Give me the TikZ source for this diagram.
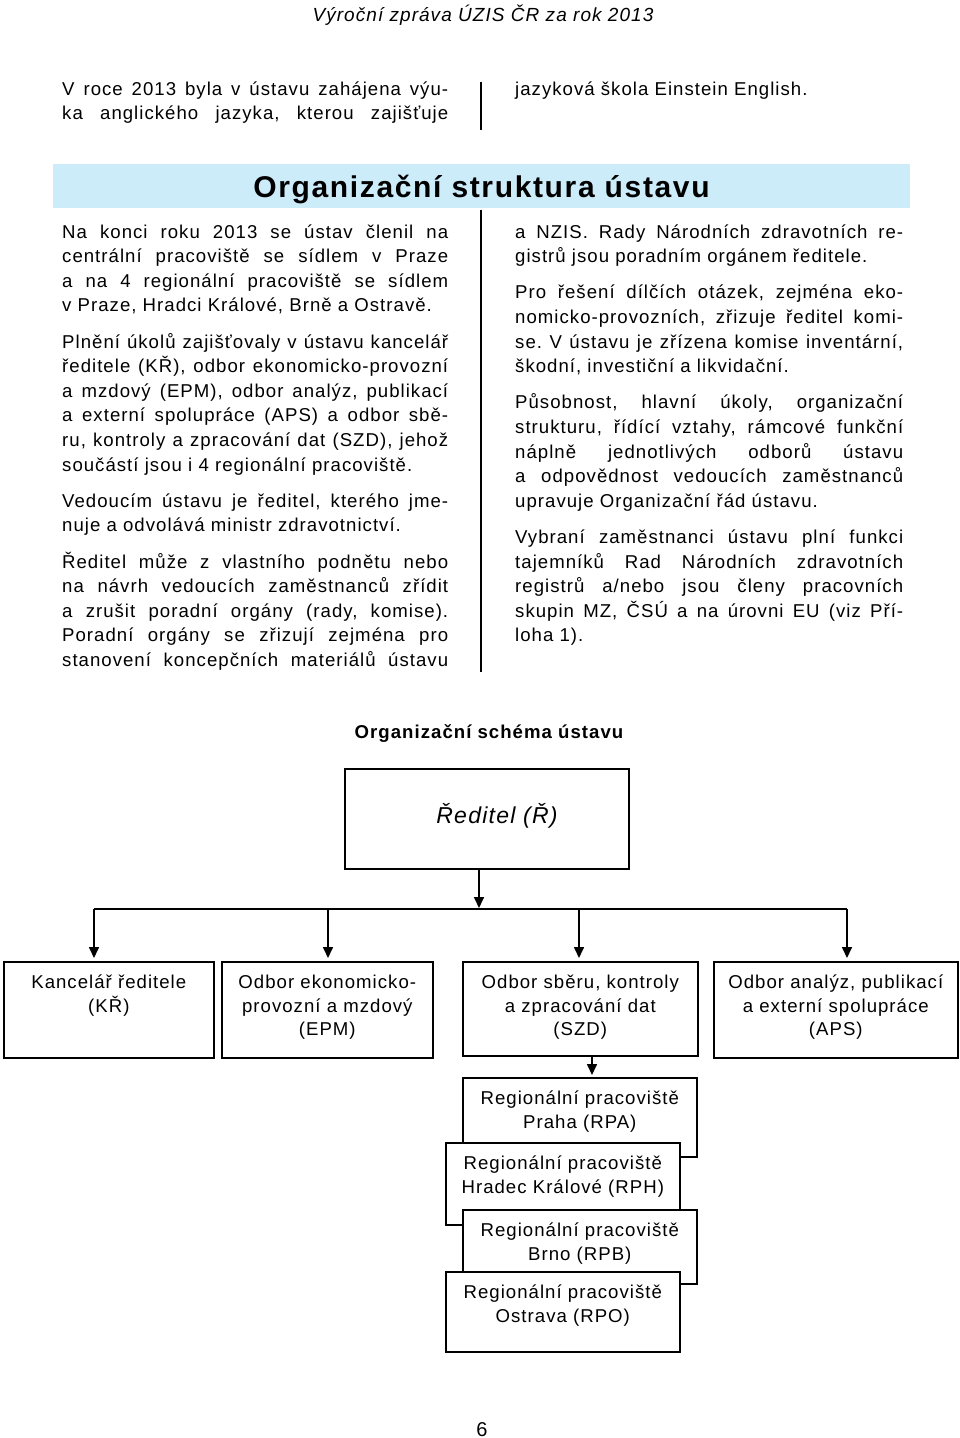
\documentclass[tikz,border=0pt]{standalone}
\usepackage{fontspec}
\setmainfont{Liberation Sans}[LetterSpace=5.5]
\usetikzlibrary{arrows.meta,positioning}

\definecolor{barblue}{RGB}{204,236,250}
\newcommand{\bodysetup}{\fontsize{18.6}{24.6}\selectfont\frenchspacing\setlength{\parskip}{11.6pt}}
\newcommand{\boxsetup}{\fontsize{18.6}{23.5}\selectfont}
\newcommand{\contpar}{\parfillskip=0pt\par}

\tikzset{
  colpar/.style={anchor=base west, inner sep=0pt, text width=386pt, align=justify,
    font=\bodysetup, execute at begin node=\bodysetup},
  unitbox/.style={draw, line width=1.6pt, fill=white, anchor=north west, inner sep=0pt,
    align=center, text height=27pt, font=\boxsetup, execute at begin node=\boxsetup},
  arr/.style={line width=1.6pt, -{Triangle[length=11pt,width=10pt]}, shorten >=3pt},
  rule/.style={line width=1.3pt}
}

\begin{document}
\begin{tikzpicture}[x=1pt,y=-1pt]
\useasboundingbox (0,0) rectangle (960,1438);
% page header
\node[anchor=base, inner sep=0pt, font=\fontsize{19}{23}\selectfont\itshape] (head) at (483,21) {Výroční zpráva ÚZIS ČR za rok 2013};

% end of previous section
\node[colpar] (introL) at (62,95) {V roce 2013 byla v ústavu zahájena výu-\linebreak
ka anglického jazyka, kterou zajišťuje\contpar};
\node[colpar, text width=388pt] (introR) at (515,95) {jazyková škola Einstein English.};
\draw[rule] (481,82) -- (481,130);

% section title
\node[fill=barblue, minimum width=857pt, minimum height=44pt, inner sep=0pt, text height=22pt, text depth=0pt,
  font=\fontsize{30}{36}\selectfont\bfseries] (title) at (481.5,186) {Organizační struktura ústavu};

% two columns
\node[colpar] (colL) at (62,238) {Na konci roku 2013 se ústav členil na\linebreak
centrální pracoviště se sídlem v Praze\linebreak
a na 4 regionální pracoviště se sídlem\linebreak
v Praze, Hradci Králové, Brně a Ostravě.\par
Plnění úkolů zajišťovaly v ústavu kancelář\linebreak
ředitele (KŘ), odbor ekonomicko-provozní\linebreak
a mzdový (EPM), odbor analýz, publikací\linebreak
a externí spolupráce (APS) a odbor sbě-\linebreak
ru, kontroly a zpracování dat (SZD), jehož\linebreak
součástí jsou i 4 regionální pracoviště.\par
Vedoucím ústavu je ředitel, kterého jme-\linebreak
nuje a odvolává ministr zdravotnictví.\par
Ředitel může z vlastního podnětu nebo\linebreak
na návrh vedoucích zaměstnanců zřídit\linebreak
a zrušit poradní orgány (rady, komise).\linebreak
Poradní orgány se zřizují zejména pro\linebreak
stanovení koncepčních materiálů ústavu\contpar};
\node[colpar, text width=388pt] (colR) at (515,238) {a NZIS. Rady Národních zdravotních re-\linebreak
gistrů jsou poradním orgánem ředitele.\par
Pro řešení dílčích otázek, zejména eko-\linebreak
nomicko-provozních, zřizuje ředitel komi-\linebreak
se. V ústavu je zřízena komise inventární,\linebreak
škodní, investiční a likvidační.\par
Působnost, hlavní úkoly, organizační\linebreak
strukturu, řídící vztahy, rámcové funkční\linebreak
náplně jednotlivých odborů ústavu\linebreak
a odpovědnost vedoucích zaměstnanců\linebreak
upravuje Organizační řád ústavu.\par
Vybraní zaměstnanci ústavu plní funkci\linebreak
tajemníků Rad Národních zdravotních\linebreak
registrů a/nebo jsou členy pracovních\linebreak
skupin MZ, ČSÚ a na úrovni EU (viz Pří-\linebreak
loha 1).};
\draw[rule] (481,210) -- (481,672);

% org chart
\node[anchor=base, inner sep=0pt, font=\fontsize{18.6}{23}\selectfont\bfseries] (schema) at (489,738) {Organizační schéma ústavu};
\node[draw, line width=1.6pt, minimum width=284pt, minimum height=100pt, inner sep=0pt, text height=17pt, text depth=9pt,
  font=\fontsize{23}{28}\selectfont\itshape] (dir) at (487,819) {\hspace*{20pt}Ředitel (Ř)};

\coordinate (bdir) at (479,909);
\coordinate (b1) at (94,909);
\coordinate (b2) at (328,909);
\coordinate (b3) at (579,909);
\coordinate (b4) at (847,909);
\draw[arr, shorten >=1pt] (dir.south -| bdir) -- (bdir);
\draw[line width=1.6pt] (b1) -- (b4);

\node[unitbox, text width=210pt, text depth=69pt] (kr) at (3,961) {Kancelář ředitele\\(KŘ)};
\node[unitbox, text width=211pt, text depth=69pt] (epm) at (221,961) {Odbor ekonomicko-\\provozní a mzdový\\(EPM)};
\node[unitbox, text width=235pt, text depth=67pt] (szd) at (462,961) {Odbor sběru, kontroly\\a zpracování dat\\(SZD)};
\node[unitbox, text width=244pt, text depth=69pt] (aps) at (713,961) {Odbor analýz, publikací\\a externí spolupráce\\(APS)};
\draw[arr] (b1) -- (b1 |- kr.north);
\draw[arr] (b2) -- (b2 |- epm.north);
\draw[arr] (b3) -- (b3 |- szd.north);
\draw[arr] (b4) -- (b4 |- aps.north);

% regional offices, stacked
\node[unitbox, text width=234pt, text depth=52pt] (rpa) at (462,1077) {Regionální pracoviště\\Praha (RPA)};
\node[unitbox, text width=234pt, text depth=55pt] (rph) at (445,1142) {Regionální pracoviště\\Hradec Králové (RPH)};
\node[unitbox, text width=234pt, text depth=47pt] (rpb) at (462,1209) {Regionální pracoviště\\Brno (RPB)};
\node[unitbox, text width=234pt, text depth=53pt] (rpo) at (445,1271) {Regionální pracoviště\\Ostrava (RPO)};
\coordinate (rpin) at (592,1077);
\draw[arr, shorten >=2pt] (szd.south -| rpin) -- (rpa.north -| rpin);

% page number
\node[anchor=base, inner sep=0pt, font=\fontsize{20}{24}\selectfont] (pg) at (482,1436) {6};
\end{tikzpicture}
\end{document}
